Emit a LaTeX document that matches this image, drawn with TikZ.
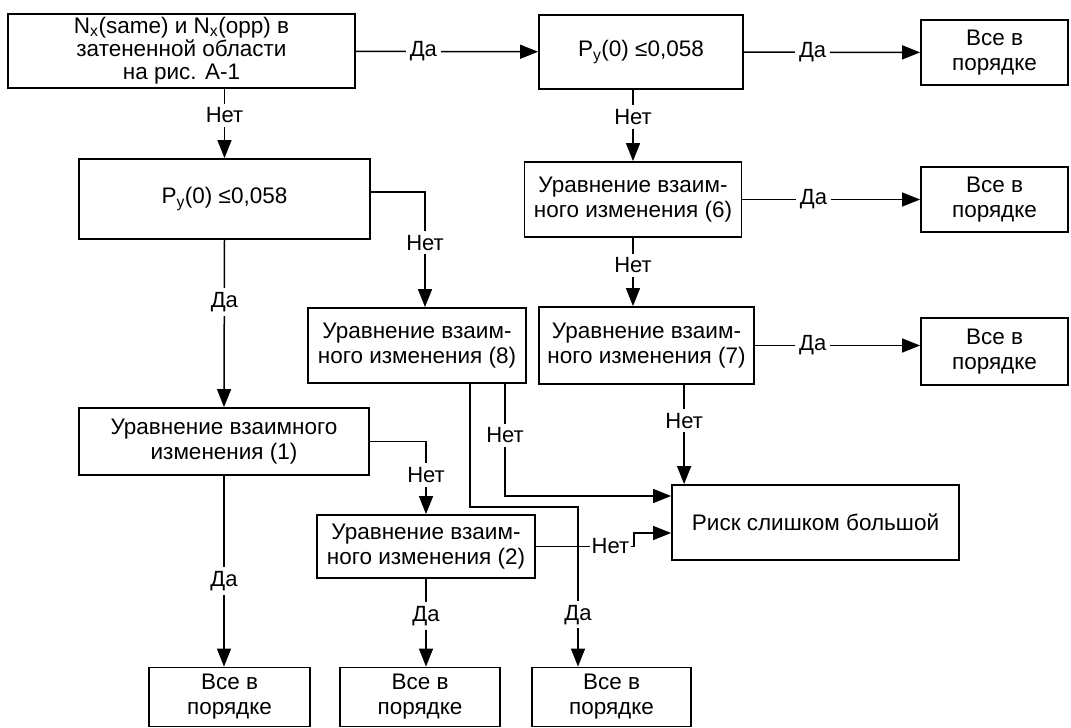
\documentclass[tikz,border=0pt]{standalone}
\usepackage{fontspec}
\setmainfont{Liberation Sans}
\usetikzlibrary{arrows.meta}

\begin{document}
\begin{tikzpicture}[x=1pt,y=-1pt,
box/.style={draw,line width=1.8pt,align=center,inner sep=0pt,font=\fontsize{22.5}{25}\selectfont},
ok/.style={box,minimum width=147pt,minimum height=65pt},
okb/.style={box,minimum width=160pt,minimum height=59pt},
eq/.style={box,minimum width=217pt,minimum height=75pt},
arr/.style={line width=1.5pt,-{Triangle[length=18pt,width=14pt]}},
lbl/.style={fill=white,inner sep=4pt,font=\fontsize{22}{24}\selectfont}]
\useasboundingbox (0,0) rectangle (1071,728);
\node (start) [box,minimum width=347pt,minimum height=74pt,font=\fontsize{22.5}{23}\selectfont] at (181.5,51) {N\textsubscript{x}(same) и N\textsubscript{x}(opp) в\\затененной области\\на рис. А-1};
\node (pyR) [box,minimum width=204pt,minimum height=74pt] at (641,52) {P\textsubscript{y}(0) ≤0,058};
\node (okA) [ok] at (994.5,52.5) {Все в\\порядке};
\node (eqsix) [eq] at (633,199.5) {Уравнение взаим-\\ного изменения (6)};
\node (okB) [ok] at (994.5,199.5) {Все в\\порядке};
\node (pyL) [box,minimum width=291pt,minimum height=80pt] at (224.5,199) {P\textsubscript{y}(0) ≤0,058};
\node (eqeight) [eq,minimum width=218pt] at (417,345.5) {Уравнение взаим-\\ного изменения (8)};
\node (eqseven) [eq,minimum width=215pt,minimum height=77pt] at (646.5,345.5) {Уравнение взаим-\\ного изменения (7)};
\node (okC) [ok,minimum height=67pt] at (994.5,351.5) {Все в\\порядке};
\node (eqone) [box,minimum width=290pt,minimum height=67pt] at (224,441.5) {Уравнение взаимного\\изменения (1)};
\node (risk) [box,minimum width=287pt,minimum height=75pt] at (815.5,522.5) {Риск слишком большой};
\node (eqtwo) [eq,minimum width=218pt,minimum height=63pt] at (426,546.5) {Уравнение взаим-\\ного изменения (2)};
\node (okD) [okb,minimum width=161pt] at (229.5,697) {Все в\\порядке};
\node (okE) [okb] at (420,697) {Все в\\порядке};
\node (okF) [okb,minimum width=159pt] at (611.5,697) {Все в\\порядке};

\coordinate (rA) at ([xshift=13pt]risk.north west);
\coordinate (e8in) at ([xshift=8pt]eqeight.north);
\coordinate (e8a) at ([xshift=88pt]eqeight.south);
\coordinate (e8b) at ([xshift=53pt]eqeight.south);
\coordinate (kF) at (578,507);
\coordinate (kR) at (634,546.5);

\draw[arr] (start) -- (pyR) node[lbl,pos=0.37] {Да};
\draw[arr] (pyR) -- (okA) node[lbl,pos=0.39] {Да};
\draw[arr] (start.south -| pyL.north) -- (pyL.north) node[lbl,pos=0.38] {Нет};
\draw[arr] (pyR.south -| eqsix.north) -- (eqsix.north) node[lbl,pos=0.38] {Нет};
\draw[arr] (eqsix) -- (okB) node[lbl,pos=0.4] {Да};
\draw[arr] (eqsix.south) -- (eqseven.north -| eqsix.south) node[lbl,pos=0.4] {Нет};
\draw[arr] (eqseven.east) -- (eqseven.east -| okC.west) node[lbl,pos=0.35] {Да};
\draw[arr] (eqseven.south -| rA) -- (rA) node[lbl,pos=0.36] {Нет};
\draw[arr] (pyL.south) -- (eqone.north) node[lbl,pos=0.37] {Да};
\draw[arr] ([yshift=7pt]pyL.east) -| (e8in) node[lbl,pos=0.72] {Нет};
\draw[arr] (eqone.east) -| (eqtwo.north) node[lbl,pos=0.73] {Нет};
\draw[arr] (eqone.south) -- (eqone.south |- okD.north) node[lbl,pos=0.55] {Да};
\draw[arr] (eqtwo.south) -- (eqtwo.south |- okE.north) node[lbl,pos=0.42] {Да};
\draw[arr] (e8a) |- ([yshift=26.5pt]risk.west) node[lbl,pos=0.23] {Нет};
\draw[arr] (e8b) |- (kF) -- (kF |- okF.north) node[lbl,pos=0.675] {Да};
\draw[arr] (eqtwo.east) -- node[lbl,inner xsep=1.5pt,pos=0.76] {Нет} (kR) |- ([yshift=-10.5pt]risk.west);
\end{tikzpicture}
\end{document}
